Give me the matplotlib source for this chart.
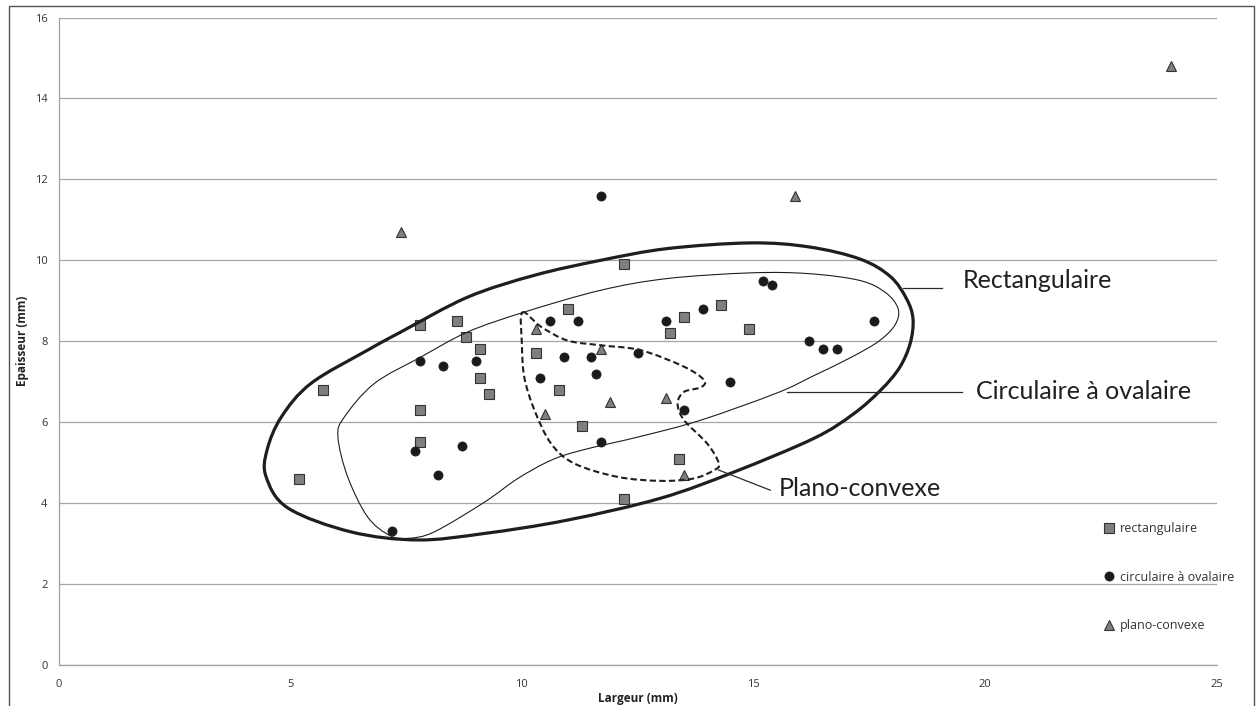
import numpy as np
import matplotlib
matplotlib.use('Agg')
import matplotlib.pyplot as plt
from matplotlib.path import Path
from matplotlib.patches import PathPatch, Rectangle

#########################################################
# data (Largeur / Epaisseur, mm)
rect_x = [5.2, 5.7, 7.8, 7.8, 7.8, 8.6, 8.8, 9.1, 9.1, 9.3, 10.3, 10.8, 11.0, 11.3, 12.2, 12.2, 13.2, 13.4, 13.5, 14.3, 14.9]
rect_y = [4.6, 6.8, 8.4, 6.3, 5.5, 8.5, 8.1, 7.8, 7.1, 6.7, 7.7, 6.8, 8.8, 5.9, 9.9, 4.1, 8.2, 5.1, 8.6, 8.9, 8.3]

circ_x = [7.2, 7.7, 7.8, 8.2, 8.3, 8.7, 9.0, 10.4, 10.6, 10.9, 11.2, 11.5, 11.6, 11.7, 11.7, 12.5, 13.1, 13.5, 13.9,
          14.5, 15.2, 15.4, 16.2, 16.5, 16.8, 17.6]
circ_y = [3.3, 5.3, 7.5, 4.7, 7.4, 5.4, 7.5, 7.1, 8.5, 7.6, 8.5, 7.6, 7.2, 5.5, 11.6, 7.7, 8.5, 6.3, 8.8,
          7.0, 9.5, 9.4, 8.0, 7.8, 7.8, 8.5]

plan_x = [7.4, 10.3, 10.5, 11.7, 11.9, 13.1, 13.5, 15.9, 24.0]
plan_y = [10.7, 8.3, 6.2, 7.8, 6.5, 6.6, 4.7, 11.6, 14.8]

labels = ['rectangulaire', 'circulaire à ovalaire', 'plano-convexe']
x_ticks = [0, 5, 10, 15, 20, 25]
y_ticks = [0, 2, 4, 6, 8, 10, 12, 14, 16]

# hand drawn group outlines (traced outline points)
outer_x = [4.48, 4.50, 4.81, 5.45, 6.67, 7.39, 8.83, 10.27, 11.70, 13.14, 14.94, 16.2, 17.3, 17.95, 18.3,
           18.44, 18.38, 18.15, 17.75, 17.15, 16.3, 14.58, 12.99, 10.98, 9.19, 7.75, 6.31, 4.95]
outer_y = [4.65, 5.31, 6.13, 6.96, 7.78, 8.23, 9.09, 9.63, 10.0, 10.29, 10.43, 10.33, 10.03, 9.6, 9.05,
           8.55, 7.95, 7.35, 6.8, 6.2, 5.6, 4.77, 4.12, 3.58, 3.25, 3.09, 3.29, 3.88]

inner_x = [7.15, 6.67, 6.24, 6.03, 6.17, 6.82, 7.82, 8.83, 10.05, 11.70, 13.14, 14.94, 16.2, 17.3, 17.85,
           18.12, 18.05, 17.7, 17.1, 16.3, 15.5, 13.86, 12.6, 11.3, 10.63, 9.9, 9.2, 8.11, 7.54]
inner_y = [3.2, 3.66, 4.65, 5.64, 6.13, 6.96, 7.61, 8.23, 8.72, 9.26, 9.55, 9.69, 9.67, 9.5, 9.2,
           8.8, 8.4, 8.0, 7.6, 7.15, 6.72, 6.05, 5.66, 5.31, 5.06, 4.6, 4.03, 3.29, 3.13]

plano_x = [10.01, 10.41, 10.98, 11.70, 12.56, 13.5, 13.93, 13.86, 13.5, 13.36, 13.5, 14.0, 14.25, 14.14, 13.71,
           12.99, 12.06, 11.13, 10.63, 10.27, 10.05, 10.0]
plano_y = [8.71, 8.36, 8.02, 7.90, 7.78, 7.37, 7.04, 6.86, 6.75, 6.46, 6.05, 5.47, 4.98, 4.81, 4.61,
           4.55, 4.65, 4.98, 5.47, 6.30, 7.12, 7.94]

#########################################################
def closed_curve(xs, ys):
    # closed Catmull-Rom outline written as cubic bezier segments
    pts = np.column_stack([xs, ys])
    n = len(pts)
    verts = [pts[0]]
    codes = [Path.MOVETO]
    for i in range(n):
        p0 = pts[i - 1]
        p1 = pts[i]
        p2 = pts[(i + 1) % n]
        p3 = pts[(i + 2) % n]
        verts += [p1 + (p2 - p0) / 6.0, p2 - (p3 - p1) / 6.0, p2]
        codes += [Path.CURVE4] * 3
    return Path(verts, codes)

fig = plt.figure(figsize=[12.57, 7.06], dpi=100)
ax = fig.add_axes([58.5 / 1257, 1 - 665 / 706, (1217 - 58.5) / 1257, (665 - 17.5) / 706])

# outer frame of the chart
fig.patches.append(Rectangle((9 / 1257, -0.02), (1254 - 9) / 1257, 1 - 6 / 706 + 0.02, transform=fig.transFigure,
                             fill=False, edgecolor='#555555', linewidth=1.0))

ax.set_xlim(0, 25)
ax.set_ylim(0, 16)
ax.set_xticks(x_ticks)
ax.set_yticks(y_ticks)
ax.yaxis.grid(True, color='#a6a6a6', linewidth=0.9)
ax.set_axisbelow(True)
for s in ['top', 'right']:
    ax.spines[s].set_visible(False)
for s in ['left', 'bottom']:
    ax.spines[s].set_color('#a0a0a0')
    ax.spines[s].set_linewidth(0.9)
ax.tick_params(axis='both', length=0, labelsize=8, colors='#333333')
ax.tick_params(axis='x', pad=10)
ax.tick_params(axis='y', pad=8)
for t in ax.get_xticklabels() + ax.get_yticklabels():
    t.set_fontfamily('Open Sans')

ax.set_xlabel('Largeur (mm)', fontsize=8.5, fontweight='bold', fontfamily='Open Sans', color='#222222')
ax.set_ylabel('Epaisseur (mm)', fontsize=8.5, fontweight='bold', fontfamily='Open Sans', color='#222222')
ax.xaxis.set_label_coords(0.5, -0.042)
ax.yaxis.set_label_coords(-0.0255, 0.5)

sq, = ax.plot(rect_x, rect_y, linestyle='', marker='s', markersize=6.5, markerfacecolor='#7f7f7f',
              markeredgecolor='#333333', markeredgewidth=0.8, zorder=3)
ci, = ax.plot(circ_x, circ_y, linestyle='', marker='o', markersize=6.6, markerfacecolor='#1a1a1a',
              markeredgecolor='#1a1a1a', markeredgewidth=0.5, zorder=3)
tr, = ax.plot(plan_x, plan_y, linestyle='', marker='^', markersize=7.2, markerfacecolor='#7f7f7f',
              markeredgecolor='#333333', markeredgewidth=0.8, zorder=3)

ax.add_patch(PathPatch(closed_curve(outer_x, outer_y), fill=False, edgecolor='#1e1e1e', linewidth=2.3, zorder=4))
ax.add_patch(PathPatch(closed_curve(inner_x, inner_y), fill=False, edgecolor='#1e1e1e', linewidth=0.8, zorder=4))
ax.add_patch(PathPatch(closed_curve(plano_x, plano_y), fill=False, edgecolor='#1e1e1e', linewidth=1.5,
                       linestyle=(0, (3, 1.6)), zorder=4))

# leader lines + group names
ann_font = ['Lato', 'Open Sans']
ax.plot([18.22, 19.06], [9.32, 9.32], color='#2a2a2a', linewidth=0.9, zorder=4)
ax.text(19.51, 9.51, 'Rectangulaire', fontsize=18, family=ann_font, color='#231f20', va='center', ha='left')
ax.plot([15.71, 19.49], [6.75, 6.75], color='#2a2a2a', linewidth=0.9, zorder=4)
ax.text(19.81, 6.75, 'Circulaire à ovalaire', fontsize=18, family=ann_font, color='#231f20', va='center', ha='left')
ax.plot([14.24, 15.36], [4.82, 4.32], color='#2a2a2a', linewidth=0.9, zorder=4)
ax.text(15.54, 4.37, 'Plano-convexe', fontsize=18, family=ann_font, color='#231f20', va='center', ha='left')

leg = ax.legend([sq, ci, tr], labels, loc='upper left', bbox_to_anchor=(1104 / 1257, 1 - 522 / 706),
                bbox_transform=fig.transFigure, frameon=False, handlelength=0.8, handletextpad=0.45,
                labelspacing=2.85, borderpad=0, borderaxespad=0, prop={'family': 'Open Sans', 'size': 9})
for t in leg.get_texts():
    t.set_color('#333333')

plt.savefig('out.png', dpi=100)
plt.close(fig)
